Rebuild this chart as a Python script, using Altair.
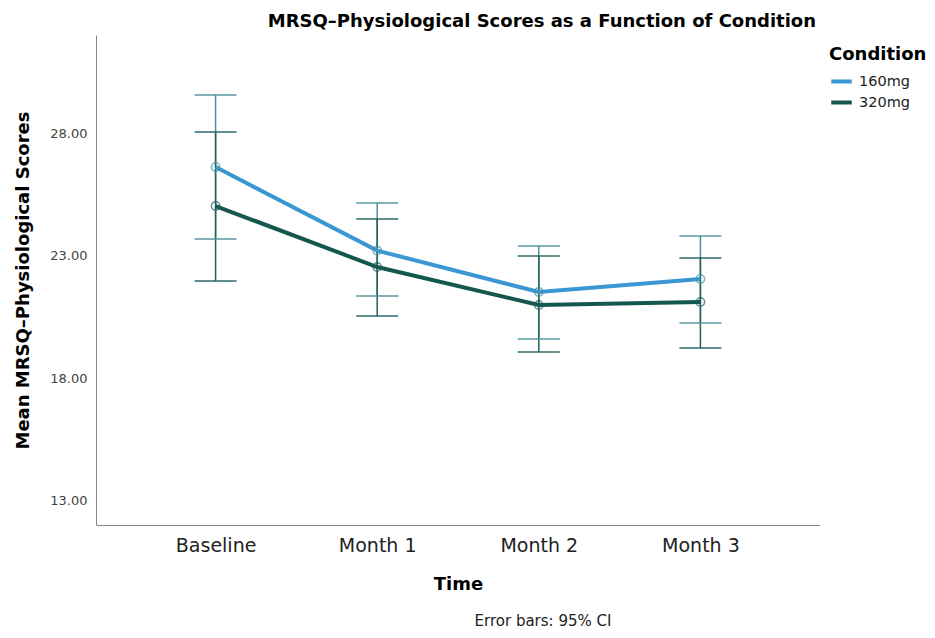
import altair as alt
import pandas as pd

times = ["Baseline", "Month 1", "Month 2", "Month 3"]
conditions = ["160mg", "320mg"]
mean_160 = [26.61, 23.20, 21.51, 22.04]
lo_160 = [23.67, 21.35, 19.59, 20.24]
hi_160 = [29.55, 25.14, 23.39, 23.80]
mean_320 = [25.02, 22.53, 20.98, 21.10]
lo_320 = [21.96, 20.53, 19.06, 19.22]
hi_320 = [28.04, 24.49, 22.98, 22.90]

rows = []
for i, t in enumerate(times):
    rows.append({"Time": t, "Condition": "160mg", "mean": mean_160[i], "lo": lo_160[i], "hi": hi_160[i]})
    rows.append({"Time": t, "Condition": "320mg", "mean": mean_320[i], "lo": lo_320[i], "hi": hi_320[i]})
df = pd.DataFrame(rows)

FONT = "DejaVu Sans"
W, H = 724, 490

x = alt.X("Time:N", sort=times, title="Time",
          scale=alt.Scale(type="point", padding=0.74),
          axis=alt.Axis(labelAngle=0, labelFontSize=19, labelColor="#222", labelPadding=11,
                        titleFontSize=18, titleFontWeight="bold", titlePadding=20, titleColor="#000",
                        ticks=False, domainColor="#888", labelFont=FONT, titleFont=FONT))
y_scale = alt.Scale(domain=[12, 32], nice=False, zero=False)

line_colors = alt.Scale(domain=conditions, range=["#3A97D4", "#14574F"])
err_colors = alt.Scale(domain=conditions, range=["#4A929A", "#1F605D"])

base = alt.Chart(df)

lines = base.mark_line(strokeWidth=4).encode(
    x=x,
    y=alt.Y("mean:Q", scale=y_scale, title="Mean MRSQ\u2013Physiological Scores",
            axis=alt.Axis(values=[13, 18, 23, 28], format=".2f", ticks=False, grid=False,
                          labelFontSize=13, labelColor="#444", labelPadding=9,
                          titleFontSize=18, titleFontWeight="bold", titleColor="#000",
                          titlePadding=17, domainColor="#888", labelFont=FONT, titleFont=FONT)),
    color=alt.Color("Condition:N", scale=line_colors,
                    legend=alt.Legend(orient="none", legendX=733, legendY=11, title="Condition",
                                      titleFontSize=18, titleFontWeight="bold", titleColor="#000",
                                      labelFontSize=14.5, labelColor="#222", symbolType="stroke",
                                      symbolStrokeWidth=4, symbolSize=420, rowPadding=0,
                                      labelOffset=5, titleFont=FONT, labelFont=FONT)),
)

rules = base.mark_rule(strokeWidth=1.5).encode(
    x=x, y=alt.Y("lo:Q", scale=y_scale), y2="hi:Q",
    color=alt.Color("Condition:N", scale=err_colors, legend=None),
)
ticks_lo = base.mark_tick(size=42, thickness=2).encode(
    x=x, y=alt.Y("lo:Q", scale=y_scale),
    color=alt.Color("Condition:N", scale=err_colors, legend=None),
)
ticks_hi = base.mark_tick(size=42, thickness=2).encode(
    x=x, y=alt.Y("hi:Q", scale=y_scale),
    color=alt.Color("Condition:N", scale=err_colors, legend=None),
)
points = base.mark_point(filled=False, size=70, strokeWidth=1.5).encode(
    x=x, y=alt.Y("mean:Q", scale=y_scale),
    color=alt.Color("Condition:N", scale=err_colors, legend=None),
)

foot = alt.Chart(pd.DataFrame({"t": ["Error bars: 95% CI"]})).mark_text(
    fontSize=15, font=FONT, color="#222", align="center", baseline="middle"
).encode(x=alt.value(447), y=alt.value(586), text="t:N")

chart = alt.layer(rules, ticks_lo, ticks_hi, lines, points, foot).resolve_scale(
    color="independent"
).properties(
    width=W, height=H,
    title=alt.Title("MRSQ\u2013Physiological Scores as a Function of Condition",
                    anchor="start", dx=253, fontSize=18, fontWeight="bold", font=FONT,
                    color="#000", offset=4),
    autosize=alt.AutoSizeParams(type="none"),
    padding={"left": 88, "top": 27, "right": 107, "bottom": 105},
).configure(background="white", view=alt.ViewConfig(stroke=None))

chart.save("out.html", embed_options={"renderer": "svg", "actions": False})
